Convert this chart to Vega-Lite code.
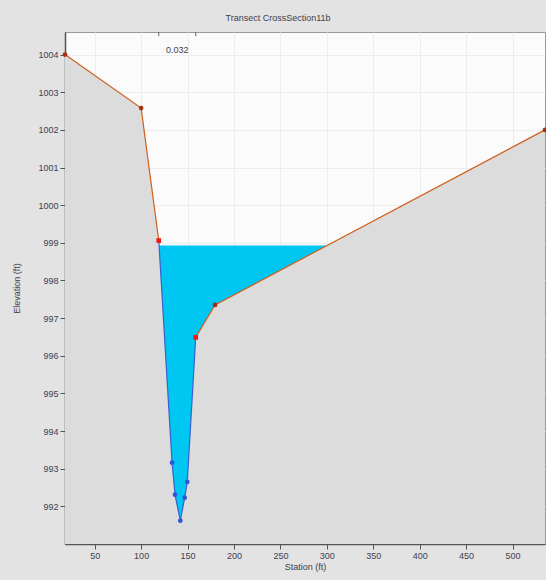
{
  "$schema": "https://vega.github.io/schema/vega-lite/v6.json",
  "width": 480,
  "height": 512,
  "autosize": {"type": "none"},
  "padding": {"left": 65, "top": 32, "right": 1, "bottom": 36},
  "background": "#e3e3e3",
  "config": {
    "font": "Liberation Sans",
    "view": {"fill": "#fbfbfb", "stroke": "#9a9a9a", "strokeWidth": 1},
    "axis": {
      "labelFont": "Liberation Sans",
      "titleFont": "Liberation Sans",
      "labelFontSize": 9,
      "titleFontSize": 9,
      "titleFontWeight": "normal",
      "labelColor": "#404050",
      "titleColor": "#404050",
      "domainColor": "#555555",
      "domainWidth": 1.5,
      "tickColor": "#555555",
      "tickSize": 5,
      "gridColor": "#ececec",
      "gridWidth": 1
    }
  },
  "title": {
    "text": "Transect CrossSection11b",
    "fontSize": 9,
    "font": "Liberation Sans",
    "fontWeight": "normal",
    "color": "#404050",
    "offset": 9,
    "dx": -27
  },
  "datasets": {
    "profile": [
      {"station": 18, "elev": 1004.0, "kind": "overbank"},
      {"station": 100, "elev": 1002.58, "kind": "overbank"},
      {"station": 119, "elev": 999.06, "kind": "bank"},
      {"station": 133.3, "elev": 993.16, "kind": "channel"},
      {"station": 136.5, "elev": 992.31, "kind": "channel"},
      {"station": 142.2, "elev": 991.62, "kind": "channel"},
      {"station": 146.9, "elev": 992.23, "kind": "channel"},
      {"station": 149.7, "elev": 992.65, "kind": "channel"},
      {"station": 158.8, "elev": 996.49, "kind": "bank"},
      {"station": 179.6, "elev": 997.35, "kind": "overbank"},
      {"station": 535, "elev": 1002.0, "kind": "overbank"}
    ],
    "lines": [
      {"station": 18, "elev": 1004.0, "seg": "left"},
      {"station": 100, "elev": 1002.58, "seg": "left"},
      {"station": 119, "elev": 999.06, "seg": "left"},
      {"station": 119, "elev": 999.06, "seg": "channel"},
      {"station": 133.3, "elev": 993.16, "seg": "channel"},
      {"station": 136.5, "elev": 992.31, "seg": "channel"},
      {"station": 142.2, "elev": 991.62, "seg": "channel"},
      {"station": 146.9, "elev": 992.23, "seg": "channel"},
      {"station": 149.7, "elev": 992.65, "seg": "channel"},
      {"station": 158.8, "elev": 996.49, "seg": "channel"},
      {"station": 158.8, "elev": 996.49, "seg": "right"},
      {"station": 179.6, "elev": 997.35, "seg": "right"},
      {"station": 535, "elev": 1002.0, "seg": "right"}
    ],
    "water": [
      {"station": 119.3, "elev": 998.93, "wse": 998.93},
      {"station": 133.3, "elev": 993.16, "wse": 998.93},
      {"station": 136.5, "elev": 992.31, "wse": 998.93},
      {"station": 142.2, "elev": 991.62, "wse": 998.93},
      {"station": 146.9, "elev": 992.23, "wse": 998.93},
      {"station": 149.7, "elev": 992.65, "wse": 998.93},
      {"station": 158.8, "elev": 996.49, "wse": 998.93},
      {"station": 179.6, "elev": 997.35, "wse": 998.93},
      {"station": 300.4, "elev": 998.93, "wse": 998.93}
    ],
    "banks": [
      {"station": 119, "top": 1004.6, "bottom": 1004.49},
      {"station": 158.8, "top": 1004.6, "bottom": 1004.49}
    ],
    "nlabel": [
      {"station": 139, "elev": 1004.13, "label": "0.032"}
    ]
  },
  "resolve": {"scale": {"color": "independent", "shape": "independent"}},
  "layer": [
    {
      "data": {"name": "profile"},
      "mark": {"type": "area", "color": "#dcdcdc", "opacity": 1},
      "encoding": {
        "x": {
          "field": "station", "type": "quantitative",
          "scale": {"domain": [18, 535], "nice": false, "zero": false},
          "axis": {"title": "Station (ft)", "values": [50, 100, 150, 200, 250, 300, 350, 400, 450, 500], "grid": true, "titlePadding": 2, "labelPadding": 2}
        },
        "y": {
          "field": "elev", "type": "quantitative",
          "scale": {"domain": [991, 1004.6], "nice": false, "zero": false},
          "axis": {"title": "Elevation (ft)", "values": [992, 993, 994, 995, 996, 997, 998, 999, 1000, 1001, 1002, 1003, 1004], "format": "d", "grid": true, "labelPadding": 2, "titlePadding": 16}
        },
        "y2": {"datum": 991}
      }
    },
    {
      "data": {"name": "water"},
      "mark": {"type": "area", "color": "#00c6f2", "opacity": 1},
      "encoding": {
        "x": {"field": "station", "type": "quantitative"},
        "y": {"field": "elev", "type": "quantitative"},
        "y2": {"field": "wse"}
      }
    },
    {
      "data": {"name": "lines"},
      "mark": {"type": "line", "strokeWidth": 1.2},
      "encoding": {
        "x": {"field": "station", "type": "quantitative"},
        "y": {"field": "elev", "type": "quantitative"},
        "detail": {"field": "seg"},
        "color": {
          "field": "seg", "type": "nominal",
          "scale": {"domain": ["left", "channel", "right"], "range": ["#d0601e", "#3a5fd0", "#d0601e"]},
          "legend": null
        }
      }
    },
    {
      "data": {"name": "profile"},
      "mark": {"type": "point", "filled": true, "opacity": 1, "size": 22},
      "encoding": {
        "x": {"field": "station", "type": "quantitative"},
        "y": {"field": "elev", "type": "quantitative"},
        "shape": {
          "field": "kind", "type": "nominal",
          "scale": {"domain": ["overbank", "bank", "channel"], "range": ["circle", "square", "circle"]},
          "legend": null
        },
        "color": {
          "field": "kind", "type": "nominal",
          "scale": {"domain": ["overbank", "bank", "channel"], "range": ["#a8300c", "#f01818", "#2f55d4"]},
          "legend": null
        }
      }
    },
    {
      "data": {"name": "banks"},
      "mark": {"type": "rule", "color": "#666666", "strokeWidth": 1},
      "encoding": {
        "x": {"field": "station", "type": "quantitative"},
        "y": {"field": "top", "type": "quantitative"},
        "y2": {"field": "bottom"}
      }
    },
    {
      "data": {"name": "nlabel"},
      "mark": {"type": "text", "fontSize": 9, "font": "Liberation Sans", "color": "#404050"},
      "encoding": {
        "x": {"field": "station", "type": "quantitative"},
        "y": {"field": "elev", "type": "quantitative"},
        "text": {"field": "label"}
      }
    }
  ]
}
